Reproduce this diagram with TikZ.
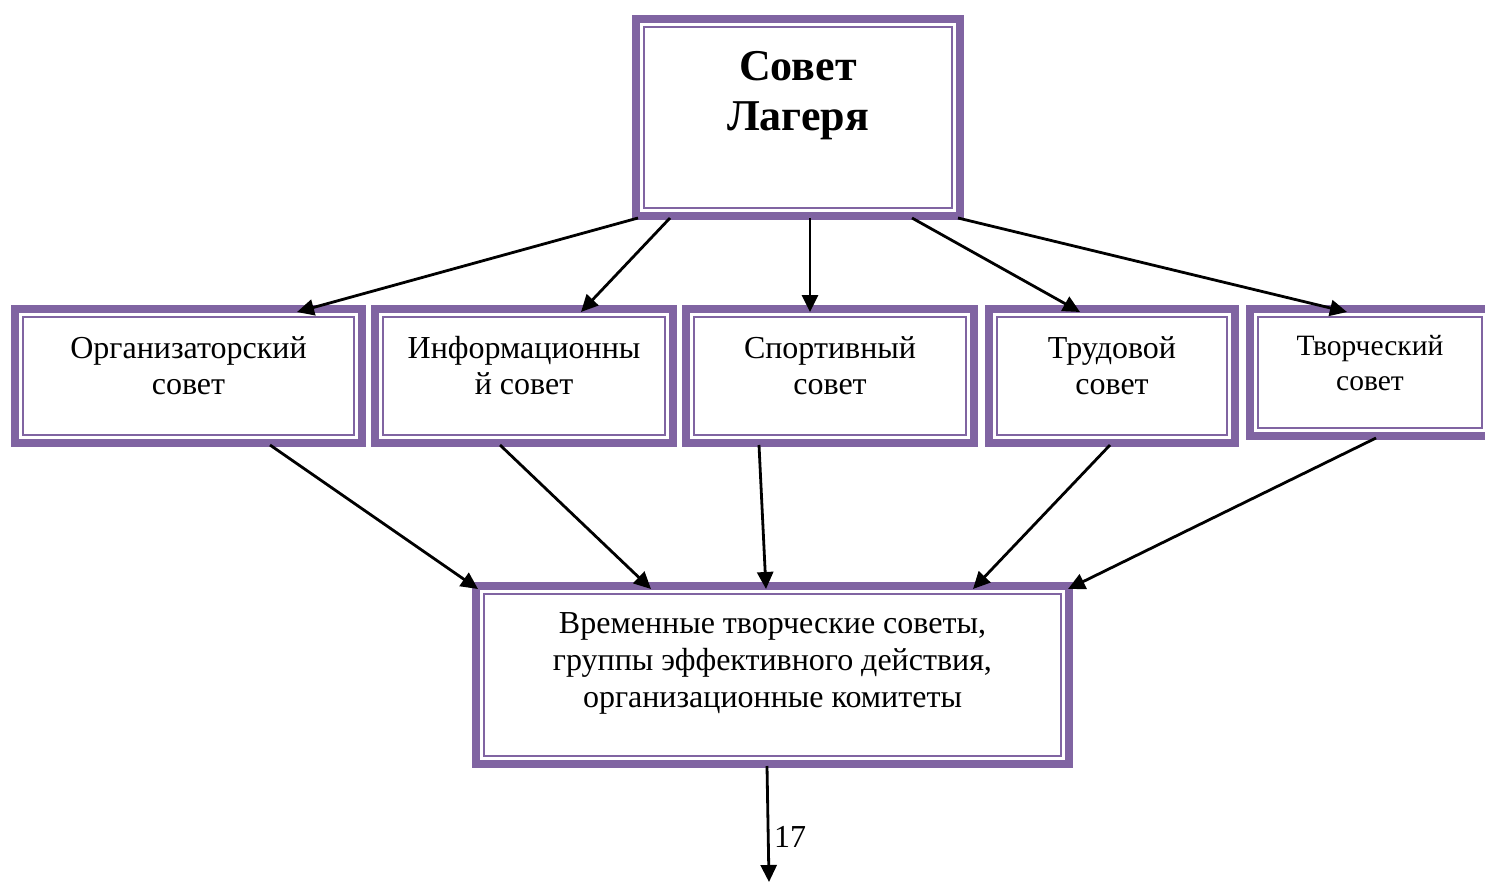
\documentclass[tikz,border=0pt]{standalone}
\usepackage{fontspec}
\setmainfont{Liberation Serif}
\usetikzlibrary{arrows.meta}
\definecolor{frame}{HTML}{8064A2}
\tikzset{
  framebox/.style={draw=frame, line width=8pt, inner sep=0pt, outer sep=0pt, fill=white},
  innerline/.style={draw=frame, line width=2pt},
  conn/.style={line width=2.8pt, -{Triangle[length=17pt,width=16pt]}},
}
% #1 width, #2 height, #3 font size, #4 baselineskip, #5 top space, #6 text
\newcommand{\mkboxtext}[6]{\parbox[c][#2pt][t]{#1pt}{\centering\fontsize{#3pt}{#4pt}\selectfont\vspace*{#5pt}#6\par}}
\begin{document}
\begin{tikzpicture}[x=1pt,y=-1pt]
\useasboundingbox (0,0) rectangle (1485,881);
\clip (0,0) rectangle (1485,881);
% boxes
\node[framebox, minimum width=324pt, minimum height=197pt] (top) at (798,117.5)
  {\mkboxtext{324}{197}{44}{50}{26}{\bfseries\strut Совет\\\strut Лагеря}};
\node[framebox, minimum width=347pt, minimum height=134pt] (b1) at (188.5,376)
  {\mkboxtext{347}{134}{32}{36}{24}{\strut Организаторский\\\strut совет}};
\node[framebox, minimum width=298pt, minimum height=134pt] (b2) at (524,376)
  {\mkboxtext{298}{134}{32}{36}{24}{\strut Информационны\\\strut й совет}};
\node[framebox, minimum width=288pt, minimum height=134pt] (b3) at (830,376)
  {\mkboxtext{288}{134}{32}{36}{24}{\strut Спортивный\\\strut совет}};
\node[framebox, minimum width=246pt, minimum height=134pt] (b4) at (1112,376)
  {\mkboxtext{246}{134}{32}{36}{24}{\strut Трудовой\\\strut совет}};
\node[framebox, minimum width=240pt, minimum height=127pt] (b5) at (1370,372.5)
  {\mkboxtext{240}{127}{29.5}{35}{21.5}{\strut Творческий\\\strut совет}};
\node[framebox, minimum width=593pt, minimum height=178pt] (bot) at (772.5,675)
  {\mkboxtext{593}{178}{32}{37}{22}{\strut Временные творческие советы,\\\strut группы эффективного действия,\\\strut организационные комитеты}};
% inner lines
\foreach \n in {top,b1,b2,b3,b4,b5,bot}
  \draw[innerline] ([shift={(8,8)}]\n.north west) rectangle ([shift={(-8,-8)}]\n.south east);
% connectors from top
\draw[conn] ([xshift=-160pt,yshift=-2pt]top.south) -- ([xshift=108.5pt,yshift=-3pt]b1.north);
\draw[conn] ([xshift=-128pt,yshift=-2pt]top.south) -- ([xshift=57pt,yshift=-3pt]b2.north);
\draw[conn] ([xshift=12pt,yshift=-2pt]top.south) -- ([xshift=-20pt,yshift=-3pt]b3.north);
\draw[conn] ([xshift=114pt,yshift=-2pt]top.south) -- ([xshift=-32pt,yshift=-3pt]b4.north);
\draw[conn] ([xshift=160pt,yshift=-2pt]top.south) -- ([xshift=-23pt,yshift=-3pt]b5.north);
% connectors to bottom
\draw[conn] ([xshift=81.5pt,yshift=-2pt]b1.south) -- ([xshift=-294.5pt,yshift=-3pt]bot.north);
\draw[conn] ([xshift=-24pt,yshift=-2pt]b2.south) -- ([xshift=-121.5pt,yshift=-3pt]bot.north);
\draw[conn] ([xshift=-71pt,yshift=-2pt]b3.south) -- ([xshift=-6.5pt,yshift=-3pt]bot.north);
\draw[conn] ([xshift=-2pt,yshift=-2pt]b4.south) -- ([xshift=200.5pt,yshift=-3pt]bot.north);
\draw[conn] ([xshift=6pt,yshift=-2pt]b5.south) -- ([xshift=295.5pt,yshift=-3pt]bot.north);
% outgoing
\coordinate (out) at (769,882);
\draw[conn] ([xshift=-5.5pt,yshift=-2pt]bot.south) -- (out);
\node[anchor=base west, inner sep=0pt, font=\fontsize{32pt}{37pt}\selectfont] (lbl) at (774,847) {17};
\end{tikzpicture}
\end{document}
